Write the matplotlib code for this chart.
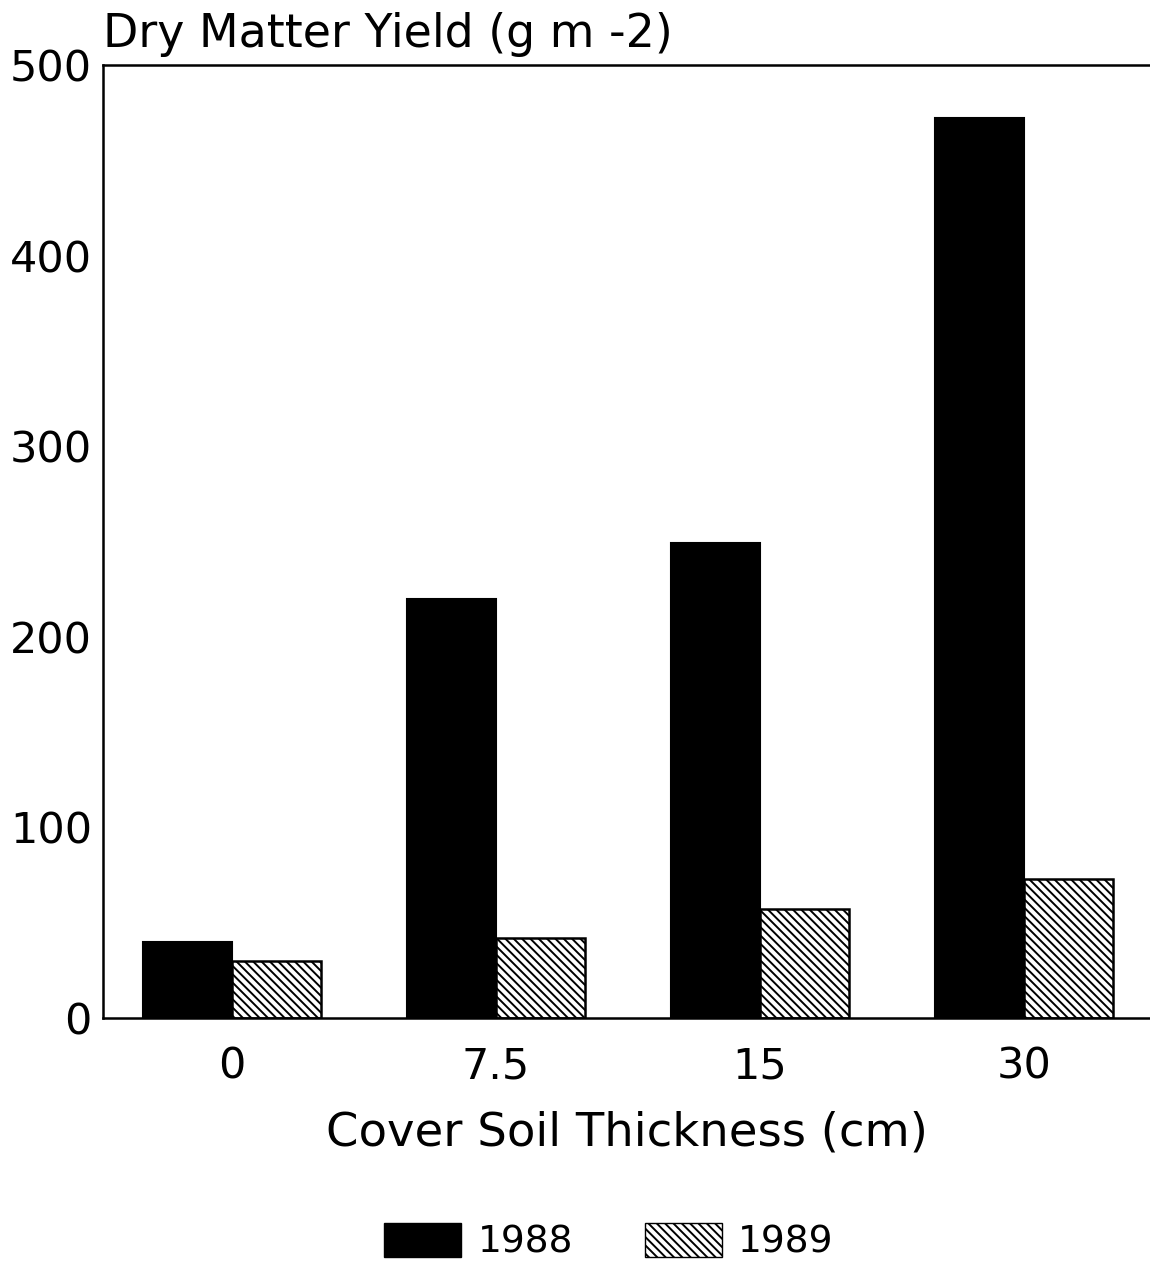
import matplotlib
matplotlib.use("Agg")
import matplotlib.pyplot as plt
from matplotlib.patches import Patch
import numpy as np

categories = ["0", "7.5", "15", "30"]
yield_1988 = [40, 220, 249, 472]
yield_1989 = [30, 42, 57, 73]
series_labels = ["1988", "1989"]
y_ticks = [0, 100, 200, 300, 400, 500]

plt.rcParams['font.family'] = ['DejaVu Sans']
plt.rcParams['hatch.linewidth'] = 1.4

W, H = 1150, 1268
fig = plt.figure(figsize=(W / 100, H / 100), dpi=100)
ax = fig.add_axes([103 / W, 250 / H, 1 - 103 / W, 953 / H])

x = np.arange(len(categories))
bw = 0.337
hatch = "\\\\\\\\"
ax.bar(x - bw / 2, yield_1988, width=bw, color="black", edgecolor="black", linewidth=1.5)
ax.bar(x + bw / 2, yield_1989, width=bw, color="white", edgecolor="black",
       hatch=hatch, linewidth=1.8)

ax.set_xlim(-0.489, 3.477)
ax.set_ylim(0, 500)
ax.set_yticks(y_ticks)
ax.set_xticks(x)
ax.set_xticklabels(categories)
ax.tick_params(length=0, labelsize=31)
ax.tick_params(axis="y", pad=8)
ax.tick_params(axis="x", pad=20)
for s in ["left", "bottom", "top"]:
    ax.spines[s].set_linewidth(1.8)
ax.spines["right"].set_visible(False)

ax.set_xlabel("Cover Soil Thickness (cm)", fontsize=33.5, labelpad=16)
fig.text(103 / W, 1 - 47 / H, "Dry Matter Yield (g m -2)", fontsize=33,
         ha="left", va="baseline")

handles = [Patch(facecolor="black", edgecolor="black"),
           Patch(facecolor="white", edgecolor="black", hatch=hatch)]
fig.legend(handles, series_labels, loc="center", bbox_to_anchor=(609 / W, 1 - 1242 / H),
           ncol=2, frameon=False, fontsize=27, handlelength=2.05, handleheight=1.0,
           handletextpad=0.45, columnspacing=1.9)

fig.savefig("out.png", dpi=100)
